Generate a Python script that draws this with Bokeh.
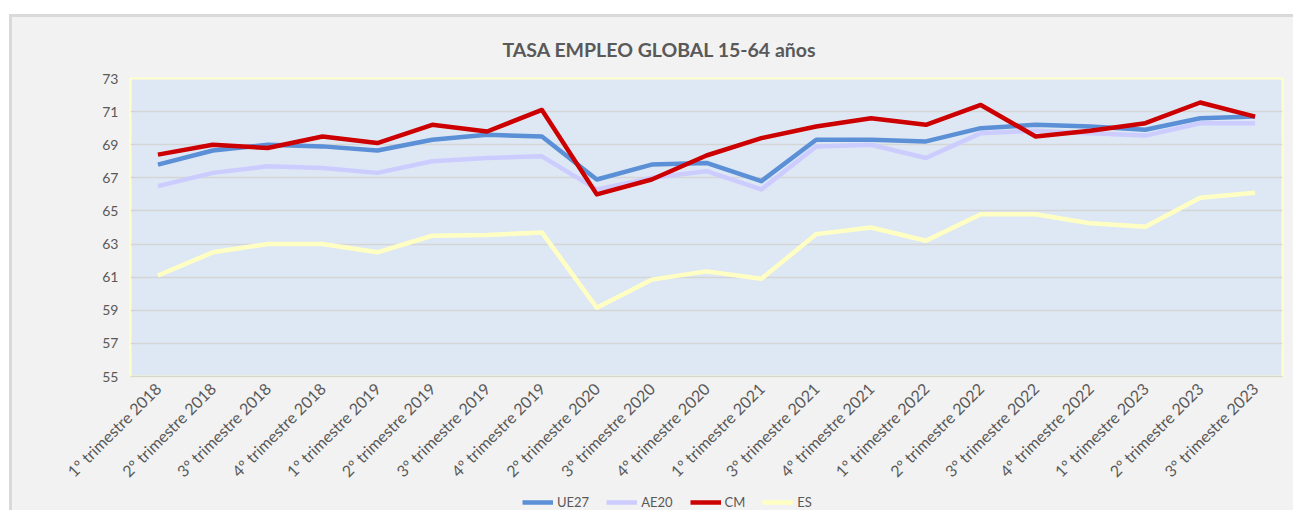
from math import pi
from bokeh.plotting import figure
from bokeh.layouts import column
from bokeh.models import FixedTicker, Legend, LegendItem, ColumnDataSource
from bokeh.embed import file_html
from bokeh.resources import INLINE

categories = [
    "1º trimestre 2018", "2º trimestre 2018", "3º trimestre 2018", "4º trimestre 2018",
    "1º trimestre 2019", "2º trimestre 2019", "3º trimestre 2019", "4º trimestre 2019",
    "2º trimestre 2020", "3º trimestre 2020", "4º trimestre 2020", "1º trimestre 2021",
    "3º trimestre 2021", "4º trimestre 2021", "1º trimestre 2022", "2º trimestre 2022",
    "3º trimestre 2022", "4º trimestre 2022", "1º trimestre 2023", "2º trimestre 2023",
    "3º trimestre 2023",
]
ue27 = [67.8, 68.65, 69.0, 68.9, 68.65, 69.3, 69.6, 69.5, 66.9, 67.8, 67.9, 66.8,
        69.3, 69.3, 69.2, 70.0, 70.2, 70.1, 69.9, 70.6, 70.7]
ae20 = [66.5, 67.3, 67.7, 67.6, 67.3, 68.0, 68.2, 68.3, 66.3, 67.0, 67.4, 66.3,
        68.9, 69.0, 68.2, 69.7, 69.85, 69.7, 69.55, 70.3, 70.3]
cm = [68.4, 69.0, 68.8, 69.5, 69.1, 70.2, 69.8, 71.1, 66.0, 66.9, 68.35, 69.4,
      70.1, 70.6, 70.2, 71.4, 69.5, 69.85, 70.3, 71.55, 70.7]
es = [61.1, 62.5, 63.0, 63.0, 62.5, 63.5, 63.55, 63.7, 59.15, 60.85, 61.35, 60.9,
      63.6, 64.0, 63.2, 64.8, 64.8, 64.25, 64.05, 65.8, 66.1]
series_names = ["UE27", "AE20", "CM", "ES"]
y_ticks = [55, 57, 59, 61, 63, 65, 67, 69, 71, 73]

colors = ["#5b8fd6", "#ccccff", "#cc0000", "#ffffc4"]
FONT = "Lato"
TXT = "#595959"
BG = "#f2f2f2"

p = figure(
    x_range=categories, y_range=(55, 73),
    width=1281, height=477,
    output_backend="svg", toolbar_location=None,
    min_border_left=118, min_border_right=11, min_border_top=61, min_border_bottom=118,
    background_fill_color="#dde8f4", border_fill_color=BG,
)

p.outline_line_color = "#ffffcc"
p.outline_line_width = 2

p.title.text = "TASA EMPLEO GLOBAL 15-64 años"
p.title.text_font = FONT
p.title.text_font_size = "19.5px"
p.title.text_font_style = "bold"
p.title.text_color = TXT
p.title.align = "left"
p.title.offset = 372
p.title.standoff = 35

p.xgrid.grid_line_color = None
p.ygrid.grid_line_color = "#d5d5d5"
p.ygrid.grid_line_width = 1.5
p.yaxis.ticker = FixedTicker(ticks=y_ticks)
p.yaxis.axis_line_color = None
p.yaxis.major_tick_line_color = None
p.yaxis.minor_tick_line_color = None
p.yaxis.major_label_text_font = FONT
p.yaxis.major_label_text_font_size = "14px"
p.yaxis.major_label_text_color = TXT
p.yaxis.major_label_standoff = 6

p.xaxis.axis_line_color = "#d5d5d5"
p.xaxis.axis_line_width = 1.5
p.xaxis.major_tick_line_color = None
p.xaxis.minor_tick_line_color = None
p.xaxis.major_label_orientation = pi / 4
p.xaxis.major_label_text_font = FONT
p.xaxis.major_label_text_font_size = "16px"
p.xaxis.major_label_text_color = TXT
p.xaxis.major_label_standoff = 3

series = [ue27, ae20, cm, es]
for name, vals, col in zip(series_names, series, colors):
    src = ColumnDataSource(dict(x=categories, y=vals))
    p.line("x", "y", source=src, line_color=col, line_width=4.5, line_join="round")

# legend strip: a small figure whose frame is aligned with the main one;
# the same series are drawn there outside its visible y-range, only to key the legend
p2 = figure(
    width=1281, height=16, x_range=categories, y_range=(0, 1),
    output_backend="svg", toolbar_location=None,
    x_axis_location=None, y_axis_location=None,
    min_border_left=118, min_border_right=11, min_border_top=0, min_border_bottom=0,
    background_fill_color=BG, border_fill_color=BG,
)
p2.outline_line_color = None
p2.grid.visible = False
items = []
for name, vals, col in zip(series_names, series, colors):
    src = ColumnDataSource(dict(x=categories, y=vals))
    r = p2.line("x", "y", source=src, line_color=col, line_width=4.5)
    items.append(LegendItem(label=name, renderers=[r]))
legend = Legend(items=items, location=(392, 0), orientation="horizontal",
                background_fill_alpha=0, border_line_color=None,
                label_text_font=FONT, label_text_font_size="13px", label_text_color=TXT,
                glyph_width=31, glyph_height=16, label_standoff=4, spacing=17,
                padding=0, margin=0)
p2.add_layout(legend, "center")

layout = column(p, p2, spacing=0)
layout.margin = (14, 0, 0, 9)
layout.styles = {"border-left": "3px solid #d9d9d9", "border-top": "3px solid #d9d9d9",
                 "background-color": BG}

open("out.html", "w").write(file_html(layout, INLINE))
